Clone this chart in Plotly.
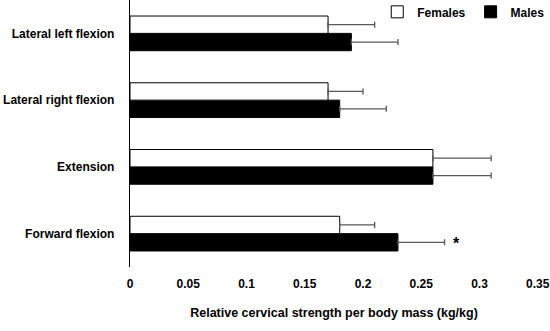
import plotly.graph_objects as go

categories = ["Forward flexion", "Extension", "Lateral right flexion", "Lateral left flexion"]
females = [0.18, 0.26, 0.17, 0.17]
females_sd = [0.03, 0.05, 0.03, 0.04]
males = [0.23, 0.26, 0.18, 0.19]
males_sd = [0.04, 0.05, 0.04, 0.04]
x_ticks = [0, 0.05, 0.1, 0.15, 0.2, 0.25, 0.3, 0.35]
x_tick_labels = ["0", "0.05", "0.1", "0.15", "0.2", "0.25", "0.3", "0.35"]

font_family = "Liberation Sans, Arial, sans-serif"

fig = go.Figure()
fig.add_trace(go.Bar(
    y=categories, x=males, orientation="h", name="<b>Males</b>",
    marker=dict(color="black", line=dict(color="black", width=1)),
    error_x=dict(type="data", array=males_sd, arrayminus=[0] * len(males_sd), symmetric=False,
                 color="#595959", thickness=1.3, width=3),
    legendrank=2,
))
fig.add_trace(go.Bar(
    y=categories, x=females, orientation="h", name="<b>Females</b>",
    marker=dict(color="white", line=dict(color="black", width=1)),
    error_x=dict(type="data", array=females_sd, arrayminus=[0] * len(females_sd), symmetric=False,
                 color="#595959", thickness=1.3, width=3),
    legendrank=1,
))

fig.add_annotation(x=0.28, y="Forward flexion", text="<b>*</b>", showarrow=False,
                   yshift=-10, xanchor="center", font=dict(size=16, color="black", family=font_family))

fig.update_layout(
    width=550, height=331,
    margin=dict(l=130, r=12, t=0, b=64, autoexpand=False),
    barmode="group", bargap=0.48, bargroupgap=0,
    plot_bgcolor="white", paper_bgcolor="white",
    font=dict(family=font_family, size=12, color="black"),
    showlegend=True,
    legend=dict(orientation="h", x=1.03, xanchor="right", y=1.01, yanchor="top",
                font=dict(size=12, color="black", family=font_family),
                itemwidth=30, bgcolor="rgba(0,0,0,0)", tracegroupgap=0),
    xaxis=dict(range=[0, 0.3502], tickvals=x_ticks, ticktext=[f"<b>{t}</b>" for t in x_tick_labels],
               showgrid=False, zeroline=False, showline=False, ticks="", automargin=False,
               ticklabelstandoff=8,
               title=dict(text="<b>Relative cervical strength per body mass (kg/kg)</b>",
                          font=dict(size=12.5), standoff=18)),
    yaxis=dict(categoryorder="array", categoryarray=categories, automargin=False,
               tickvals=categories, ticktext=[f"<b>{c}</b>" for c in categories],
               showgrid=False, zeroline=False, showline=True, linecolor="black", linewidth=1.3,
               ticks="", ticklabelstandoff=12),
)

fig.write_html("out.html", config={"displayModeBar": False},
               post_script="document.body.style.margin='0';")
